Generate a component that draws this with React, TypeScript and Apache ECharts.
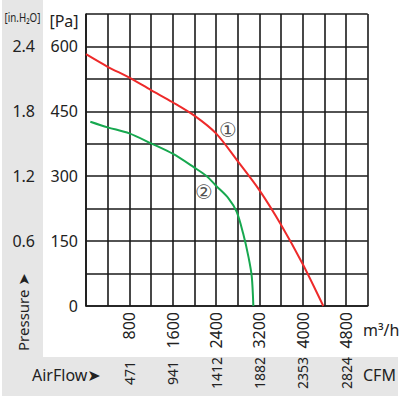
import React, { useEffect, useRef } from "react";
import * as echarts from "echarts";

// Curve ① (red)
const redFlow = [0, 400, 800, 1200, 1600, 2000, 2400, 2800, 3200, 3600, 4000, 4380];
const redPa = [582, 553, 528, 499, 471, 440, 399, 335, 268, 188, 97, 0];
// Curve ② (green)
const greenFlow = [80, 400, 800, 1200, 1600, 2000, 2230, 2400, 2630, 2780, 2900, 3000, 3060, 3089];
const greenPa = [426, 413, 399, 376, 352, 320, 300, 278, 249, 218, 168, 113, 68, 0];

// Tick labels
const m3hTicks = [800, 1600, 2400, 3200, 4000, 4800];
const cfmLabels = ["471", "941", "1412", "1882", "2353", "2824"];
const paTicks = [150, 300, 450, 600];
const paLabelsAll = [0, 150, 300, 450, 600];
const inH2OLabels = ["0.6", "1.2", "1.8", "2.4"];

// Curve tags
const tagFlow = [2620, 2178];
const tagPa = [407, 263];
const tagText = ["①", "②"];

const FONT = "'Noto Sans', 'DejaVu Sans', sans-serif";
const TXT = "#222";
const GRID = "#1a1a1a";
const GRAY = "#e6e6e6";

export default function App() {
  const ref = useRef<HTMLDivElement>(null);
  useEffect(() => {
    if (!ref.current) return;
    const chart = echarts.init(ref.current, undefined, { renderer: "svg" });
    const xCommon = {
      type: "value" as const,
      min: 0,
      max: 5200,
      interval: 400,
      gridIndex: 0,
    };
    const yCommon = {
      type: "value" as const,
      min: 0,
      max: 675,
      interval: 75,
      gridIndex: 0,
    };
    chart.setOption({
      animation: false,
      grid: { left: 86, top: 14, width: 281.7, height: 292, containLabel: false },
      xAxis: [
        {
          ...xCommon,
          position: "bottom",
          axisLine: { show: true, lineStyle: { color: GRID, width: 1.6 } },
          axisTick: { show: false },
          splitLine: { show: true, lineStyle: { color: GRID, width: 1.6 } },
          axisLabel: {
            rotate: 90,
            margin: 6,
            fontSize: 16,
            fontFamily: FONT,
            color: TXT,
            showMinLabel: true,
            showMaxLabel: true,
            formatter: (v: number) => (m3hTicks.includes(v) ? String(v) : ""),
          },
        },
        {
          ...xCommon,
          position: "bottom",
          offset: 0,
          axisLine: { show: false },
          axisTick: { show: false },
          splitLine: { show: false },
          axisLabel: {
            rotate: 90,
            margin: 67,
            align: "center",
            verticalAlign: "middle",
            fontSize: 14,
            fontFamily: FONT,
            color: TXT,
            formatter: (v: number) => {
              const i = m3hTicks.indexOf(v);
              return i >= 0 ? cfmLabels[i] : "";
            },
          },
        },
      ],
      yAxis: [
        {
          ...yCommon,
          position: "left",
          axisLine: { show: true, lineStyle: { color: GRID, width: 1.6 } },
          axisTick: { show: false },
          splitLine: { show: true, lineStyle: { color: GRID, width: 1.6 } },
          axisLabel: {
            margin: 8,
            fontSize: 16,
            fontFamily: FONT,
            color: TXT,
            formatter: (v: number) => (paLabelsAll.includes(v) ? String(v) : ""),
          },
        },
        {
          ...yCommon,
          position: "left",
          offset: 43,
          axisLine: { show: false },
          axisTick: { show: false },
          splitLine: { show: false },
          axisLabel: {
            margin: 8,
            fontSize: 16,
            fontFamily: FONT,
            color: TXT,
            formatter: (v: number) => {
              const i = paTicks.indexOf(v);
              return i >= 0 ? inH2OLabels[i] : "";
            },
          },
        },
      ],
      graphic: [
        { type: "rect", z: -100, shape: { x: 2, y: 0, width: 41, height: 396 }, style: { fill: GRAY } },
        { type: "rect", z: -100, shape: { x: 2, y: 357, width: 396, height: 39 }, style: { fill: GRAY } },
        {
          type: "text",
          x: 22.5,
          y: 17,
          scaleX: 0.75,
          style: {
            text: "[in.H₂O]",
            fontSize: 13,
            fontFamily: FONT,
            fill: TXT,
            align: "center",
            verticalAlign: "middle",
          },
        },
        {
          type: "text",
          x: 64,
          y: 21,
          style: { text: "[Pa]", fontSize: 16, fontFamily: FONT, fill: TXT, align: "center", verticalAlign: "middle" },
        },
        {
          type: "text",
          x: 22.5,
          y: 312,
          rotation: Math.PI / 2,
          style: { text: "Pressure ➤", fontSize: 15, fontFamily: FONT, fill: TXT, align: "center", verticalAlign: "middle" },
        },
        {
          type: "text",
          x: 363,
          y: 330,
          style: { text: "m³/h", fontSize: 16, fontFamily: FONT, fill: TXT, verticalAlign: "middle" },
        },
        {
          type: "text",
          x: 363,
          y: 375,
          style: { text: "CFM", fontSize: 16, fontFamily: FONT, fill: TXT, verticalAlign: "middle" },
        },
        {
          type: "text",
          x: 32,
          y: 375,
          style: { text: "AirFlow➤", fontSize: 16, fontFamily: FONT, fill: TXT, verticalAlign: "middle" },
        },
      ],
      series: [
        {
          type: "line",
          xAxisIndex: 0,
          yAxisIndex: 0,
          data: redFlow.map((f, i) => [f, redPa[i]]),
          smooth: 0.3,
          showSymbol: false,
          lineStyle: { color: "#ee2a2a", width: 2 },
          z: 5,
        },
        {
          type: "line",
          xAxisIndex: 0,
          yAxisIndex: 0,
          data: greenFlow.map((f, i) => [f, greenPa[i]]),
          smooth: 0.3,
          showSymbol: false,
          lineStyle: { color: "#17a84f", width: 2 },
          z: 5,
        },
        {
          type: "scatter",
          xAxisIndex: 0,
          yAxisIndex: 0,
          data: tagFlow.map((f, i) => [f, tagPa[i], tagText[i]]),
          symbolSize: 1,
          itemStyle: { color: "rgba(0,0,0,0)" },
          label: {
            show: true,
            position: "inside",
            formatter: (p: any) => p.value[2],
            fontSize: 20,
            fontFamily: "'DejaVu Sans', sans-serif",
            color: TXT,
          },
          z: 6,
        },
      ],
    });
    return () => chart.dispose();
  }, []);
  return (
    <div
      ref={ref}
      style={{ position: "fixed", left: 0, top: 0, width: 407, height: 399, background: "#fff" }}
    />
  );
}
